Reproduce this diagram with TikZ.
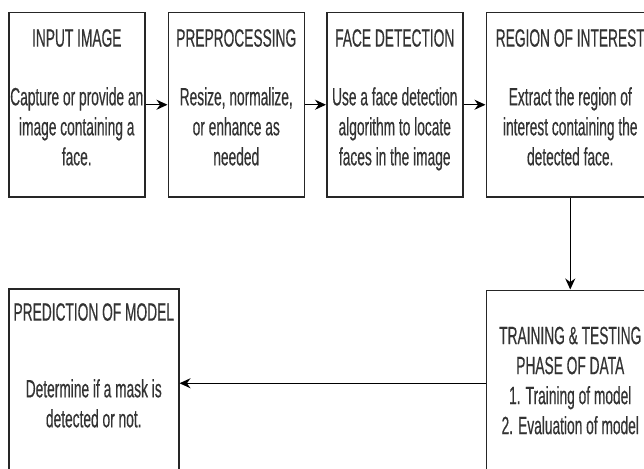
\documentclass[tikz,border=0pt]{standalone}
\usepackage{fontspec}
\setmainfont{Liberation Sans}[FakeStretch=0.55, FakeBold=0.4]
\usetikzlibrary{positioning,arrows.meta}

\begin{document}
\begin{tikzpicture}[
        x=1pt, y=-1pt,
        node distance=22pt,
        stage/.style={draw=black!85, line width=1.5pt, minimum width=136pt, minimum height=184pt, inner sep=0pt},
        wide/.style={minimum width=168pt},
        txt/.style={anchor=north, align=center, inner sep=0pt, text=black!80, font=\fontsize{25}{30}\selectfont},
        flow/.style={-{Stealth[length=11pt,width=10pt]}, line width=1.4pt, draw=black},
    ]
    \useasboundingbox (0,0) rectangle (644,468);
    % first row
    \node[stage, anchor=north west,
        label={[txt, yshift=-17pt]north:INPUT IMAGE},
        label={[txt, yshift=-75pt]north:Capture or provide an\\image containing a\\face.}] (input) at (8,12) {};
    \node[stage, right=of input,
        label={[txt, yshift=-17pt]north:PREPROCESSING},
        label={[txt, yshift=-75pt]north:Resize, normalize,\\or enhance as\\needed}] (prep) {};
    \node[stage, right=21pt of prep,
        label={[txt, yshift=-17pt]north:FACE DETECTION},
        label={[txt, yshift=-75pt]north:Use a face detection\\algorithm to locate\\faces in the image}] (detect) {};
    \node[stage, wide, right=of detect,
        label={[txt, yshift=-17pt]north:REGION OF INTEREST},
        label={[txt, yshift=-75pt]north:Extract the region of\\interest containing the\\detected face.}] (roi) {};
    % second row
    \node[stage, wide, minimum height=186pt, below=92pt of roi,
        label={[txt, yshift=-37pt]north:TRAINING \& TESTING\\PHASE OF DATA\\1. Training of model\\2. Evaluation of model}] (train) {};
    \node[stage, minimum width=170pt, minimum height=186pt, anchor=north west,
        label={[txt, yshift=-15pt]north:PREDICTION OF MODEL},
        label={[txt, yshift=-91pt]north:Determine if a mask is\\detected or not.}] (pred) at (8,288) {};
    % connectors
    \draw[flow] (input) -- (prep);
    \draw[flow] (prep) -- (detect);
    \draw[flow] (detect) -- (roi);
    \draw[flow] (roi) -- (train);
    \draw[flow] (train.west) -- (train.west -| pred.east);
\end{tikzpicture}
\end{document}
